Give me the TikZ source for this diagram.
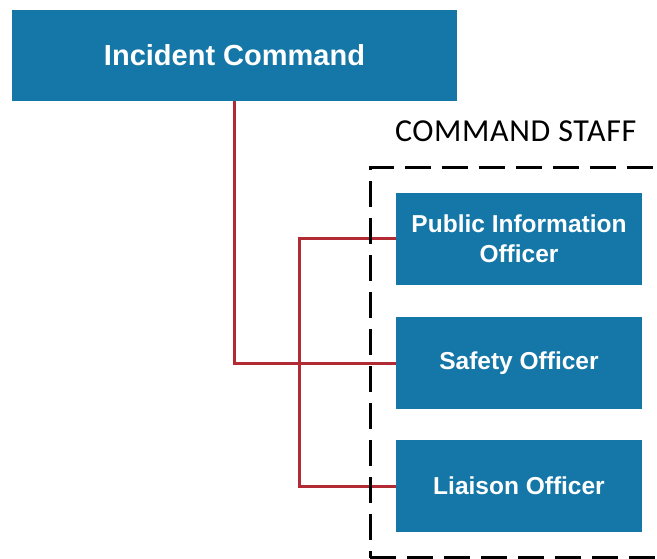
\documentclass[tikz,border=0pt]{standalone}
\usepackage{fontspec}
\newfontfamily\boxfont{Liberation Sans}
\newfontfamily\headfont[LetterSpace=2]{Carlito}
\usetikzlibrary{fit,positioning}
\definecolor{icsblue}{RGB}{21,119,167}
\definecolor{icsred}{RGB}{178,42,52}
\tikzset{
  unit/.style={fill=icsblue,text=white,align=center,inner sep=0pt,
    font=\boxfont\bfseries\fontsize{24.5}{30}\selectfont,
    minimum width=246pt,minimum height=92pt},
  link/.style={draw=icsred,line width=3pt},
}

\begin{document}
\begin{tikzpicture}[x=1pt,y=1pt]
\useasboundingbox (0,0) rectangle (657,-559);
\clip (0,0) rectangle (657,-559);
\node[unit,minimum width=445pt,minimum height=91pt,font=\boxfont\bfseries\fontsize{29}{34}\selectfont] (ic) at (234.5,-55.5) {Incident Command};
\node[unit] (pio) at (519,-239) {Public Information\\Officer};
\node[unit] (safety) at (519,-363) {Safety Officer};
\node[unit] (liaison) at (519,-486) {Liaison Officer};
\coordinate (spine) at (299,-239);
\draw[link] (ic.south) |- (safety.west);
\draw[link] (pio.west) -| (spine |- liaison.west) -- (liaison.west);
\node[draw,line width=3pt,dash pattern=on 26pt off 11pt,inner sep=25.5pt,fit=(pio) (safety) (liaison)] (staff) {};
\node[anchor=base west,inner sep=0pt,font=\headfont\fontsize{32}{37}\selectfont] (stafflabel) at ([shift={(26,24)}]staff.north west) {COMMAND STAFF};
\end{tikzpicture}
\end{document}
